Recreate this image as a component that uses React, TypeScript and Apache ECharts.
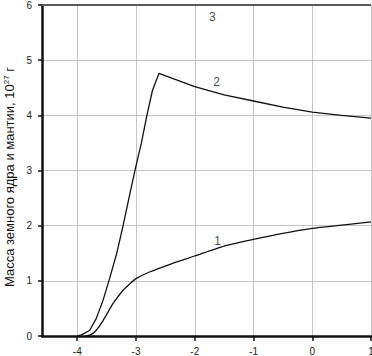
import React, { useEffect, useRef } from "react";
import * as echarts from "echarts";

const xTicks = [-4, -3, -2, -1, 0, 1];

const curve1: [number, number][] = [
  [-3.85, 0], [-3.76, 0.03], [-3.68, 0.1], [-3.56, 0.28], [-3.39, 0.59],
  [-3.22, 0.83], [-3.1, 0.95], [-3.0, 1.04], [-2.77, 1.16], [-2.42, 1.3],
  [-2, 1.45], [-1.5, 1.63], [-1, 1.75], [-0.5, 1.86], [0, 1.95], [0.5, 2.01], [1, 2.07],
];

const curve2: [number, number][] = [
  [-4, 0], [-3.93, 0.02], [-3.79, 0.1], [-3.68, 0.31], [-3.56, 0.65],
  [-3.45, 1.04], [-3.33, 1.49], [-3.22, 2.0], [-3.11, 2.55], [-3.01, 3.04],
  [-2.91, 3.49], [-2.81, 4.02], [-2.72, 4.45], [-2.61, 4.76], [-2, 4.52],
  [-1.5, 4.37], [-1, 4.26], [-0.5, 4.15], [0, 4.06], [0.5, 4.0], [1, 3.95],
];

const curve3: [number, number][] = [
  [-4.6, 6], [1, 6],
];

const curveLabels: { name: string; value: [number, number] }[] = [
  { name: "3", value: [-1.7, 5.79] },
  { name: "2", value: [-1.63, 4.6] },
  { name: "1", value: [-1.61, 1.72] },
];

const FONT = "'Liberation Sans', Arial, sans-serif";

export default function App() {
  const ref = useRef<HTMLDivElement>(null);
  useEffect(() => {
    if (!ref.current) return;
    const chart = echarts.init(ref.current, null, { renderer: "svg" });
    chart.setOption({
      animation: false,
      backgroundColor: "#ffffff",
      grid: { left: 42, right: 1, top: 5, bottom: 20, outerBoundsMode: "none", containLabel: false },
      xAxis: {
        type: "value",
        min: -4.6,
        max: 1,
        axisLine: { show: true, onZero: false, lineStyle: { color: "#111", width: 2.5 } },
        axisTick: { show: true, length: 5, customValues: xTicks, lineStyle: { color: "#111", width: 1.5 } },
        axisLabel: {
          customValues: xTicks,
          margin: 10,
          color: "#222",
          fontSize: 10,
          fontFamily: FONT,
        },
        splitLine: { show: true, lineStyle: { color: "#c4c4c4", width: 1 } },
      },
      yAxis: {
        type: "value",
        min: 0,
        max: 6,
        interval: 1,
        axisLine: { show: true, onZero: false, lineStyle: { color: "#111", width: 2.5 } },
        axisTick: { show: true, length: 4, lineStyle: { color: "#111", width: 1.5 } },
        axisLabel: {
          margin: 10,
          color: "#222",
          fontSize: 10,
          fontFamily: FONT,
        },
        splitLine: { show: true, lineStyle: { color: "#c4c4c4", width: 1 } },
      },
      graphic: [
        {
          type: "text",
          x: 9,
          y: 177,
          rotation: Math.PI / 2,
          style: {
            text: "{a|Масса земного ядра и мантии, 10}{s|27}{a| г}",
            align: "center",
            verticalAlign: "middle",
            rich: {
              a: { fontSize: 13, fontFamily: FONT, fill: "#111" },
              s: { fontSize: 8, fontFamily: FONT, fill: "#111", verticalAlign: "top", padding: [0, 0, 6, 0] },
            },
          },
        },
      ],
      series: [
        {
          type: "line",
          data: curve3,
          showSymbol: false,
          lineStyle: { color: "#5a5a5a", width: 2.2 },
          z: 3,
        },
        {
          type: "line",
          data: curve2,
          showSymbol: false,
          smooth: false,
          lineStyle: { color: "#111", width: 1.3 },
        },
        {
          type: "line",
          data: curve1,
          showSymbol: false,
          smooth: 0.2,
          lineStyle: { color: "#111", width: 1.3 },
        },
        {
          type: "scatter",
          data: curveLabels,
          symbolSize: 0,
          itemStyle: { color: "#111" },
          label: {
            show: true,
            position: "inside",
            formatter: (p: any) => p.name,
            fontSize: 12,
            fontFamily: FONT,
            color: "#111",
          },
          z: 5,
        },
      ],
    });
    return () => chart.dispose();
  }, []);
  return (
    <div
      ref={ref}
      style={{ position: "fixed", left: 0, top: 0, width: 372, height: 356 }}
    />
  );
}
